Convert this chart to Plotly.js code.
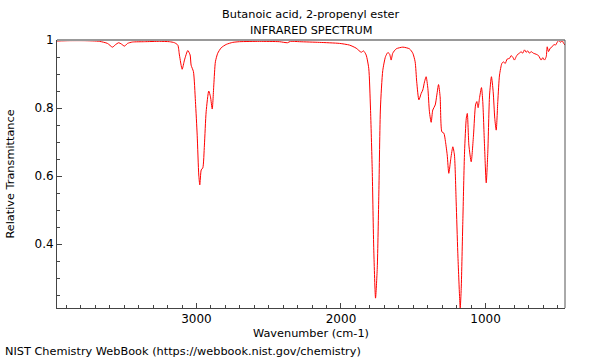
<!DOCTYPE html>
<html>
<head>
<meta charset="utf-8">
<script src="https://cdn.plot.ly/plotly-3.0.1.min.js"></script>
<style>html,body{margin:0;padding:0;background:#fff;}#chart{width:600px;height:360px;}</style>
</head>
<body>
<div id="chart"></div>
<script>
const wavenumber = [
 3965,3879,3775,3671,3616,3581,3561,3538,3519,3498,3477,3443,3360,3256,3187,3152,
 3129,3118,3099,3083,3060,3044,3037,3021,3007,2995,2984,2977,2967,2956,2945,2933,
 2915,2903,2891,2880,2869,2853,2829,2794,2749,2702,
 2564,2426,2370,2350,2287,2149,2010,1941,1895,1860,1844,1826,1808,1796,1784,1773,
 1761,1749,1738,1727,1711,1692,1676,1664,1653,1642,1618,1572,1526,1503,1487,1476,
 1461,1445,1434,1422,1411,1399,1388,1376,1365,1348,1337,1325,1314,1302,1288,1277,
 1265,1254,1240,1226,1215,1203,1192,1180,1175,1168,1157,1145,1133,1126,1115,1099,
 1083,1069,1060,1051,1042,1028,1019,1007,995,984,972,959,947,936,926,915,903,887,
 876,864,850,834,823,812,800,788,777,765,754,743,730,719,708,696,685,668,649,633,
 615,604,592,580,573,564,552,539,526,516,504,493,481,470,459,450
];
const transmittance = [
 0.997,0.998,0.998,0.996,0.990,0.979,0.986,0.992,0.988,0.982,0.990,0.994,0.995,0.996,0.995,0.992,
 0.985,0.956,0.914,0.941,0.969,0.956,0.926,0.907,0.819,0.720,0.603,0.574,0.618,0.624,0.691,0.789,
 0.850,0.833,0.797,0.868,0.936,0.961,0.977,0.987,0.993,0.995,
 0.996,0.995,0.992,0.996,0.995,0.993,0.990,0.985,0.976,0.964,0.968,0.956,0.917,0.800,0.620,0.380,
 0.241,0.330,0.550,0.800,0.910,0.951,0.963,0.959,0.941,0.961,0.974,0.979,0.974,0.961,0.936,0.877,
 0.824,0.843,0.853,0.877,0.892,0.858,0.789,0.758,0.794,0.809,0.838,0.869,0.833,0.730,0.726,0.701,
 0.662,0.608,0.652,0.686,0.662,0.524,0.377,0.250,0.212,0.270,0.466,0.671,0.770,0.784,0.691,0.642,
 0.721,0.809,0.819,0.801,0.828,0.860,0.819,0.691,0.580,0.671,0.838,0.892,0.848,0.770,0.735,0.819,0.897,0.931,
 0.936,0.931,0.944,0.946,0.954,0.950,0.941,0.951,0.958,0.961,0.966,0.961,0.971,0.964,0.968,0.961,0.966,0.961,0.958,0.954,
 0.941,0.948,0.941,0.951,0.980,0.966,0.976,0.980,0.987,0.985,0.993,0.999,0.993,0.998,0.990,0.985
];
const titleLines = ["Butanoic acid, 2-propenyl ester", "INFRARED SPECTRUM"];
const xTitle = "Wavenumber (cm-1)";
const yTitle = "Relative Transmittance";
const sourceNote = "NIST Chemistry WebBook (https://webbook.nist.gov/chemistry)";

const fam = "DejaVu Sans, sans-serif";
const txt = {family: fam, size: 11.3, color: "#000"};
const tickTxt = {family: fam, size: 12, color: "#000"};

Plotly.newPlot("chart", [{
  x: wavenumber, y: transmittance, type: "scatter", mode: "lines",
  line: {color: "#ff0000", width: 1, shape: "spline", smoothing: 0.6},
  hoverinfo: "skip"
}], {
  width: 600, height: 360,
  margin: {l: 57, r: 35, t: 40, b: 52},
  paper_bgcolor: "#fff", plot_bgcolor: "#fff",
  font: txt,
  showlegend: false,
  xaxis: {
    range: [3965, 450], showgrid: false, zeroline: false,
    showline: true, linecolor: "#444", linewidth: 1,
    ticks: "inside", ticklen: 5, tickcolor: "#444", dtick: 1000, tick0: 0,
    minor: {dtick: 100, ticks: "inside", ticklen: 3, tickcolor: "#444"},
    tickfont: tickTxt,
    title: {text: xTitle, font: txt, standoff: 3}
  },
  yaxis: {
    range: [0.212, 1.0], showgrid: false, zeroline: false,
    showline: true, linecolor: "#444", linewidth: 1,
    ticks: "inside", ticklen: 5, tickcolor: "#444", dtick: 0.2, tick0: 0,
    minor: {dtick: 0.05, ticks: "inside", ticklen: 3, tickcolor: "#444"},
    tickfont: tickTxt,
    title: {text: yTitle, font: txt, standoff: 17}
  },
  shapes: [
    {type: "line", xref: "paper", yref: "paper", x0: 0, x1: 1, y0: 1, y1: 1, line: {color: "#999", width: 2}},
    {type: "line", xref: "paper", yref: "paper", x0: 1, x1: 1, y0: 0, y1: 1, line: {color: "#555", width: 1}}
  ],
  annotations: [
    {text: titleLines[0], xref: "paper", yref: "paper", x: 0.5, y: 1.097, xanchor: "center", yanchor: "middle",
     showarrow: false, font: txt},
    {text: titleLines[1], xref: "paper", yref: "paper", x: 0.5, y: 1.037, xanchor: "center", yanchor: "middle",
     showarrow: false, font: txt},
    {text: sourceNote, xref: "paper", yref: "paper", x: -0.106, y: -0.164,
     xanchor: "left", yanchor: "middle", showarrow: false, font: txt}
  ]
}, {displayModeBar: false, staticPlot: true});
</script>
</body>
</html>
